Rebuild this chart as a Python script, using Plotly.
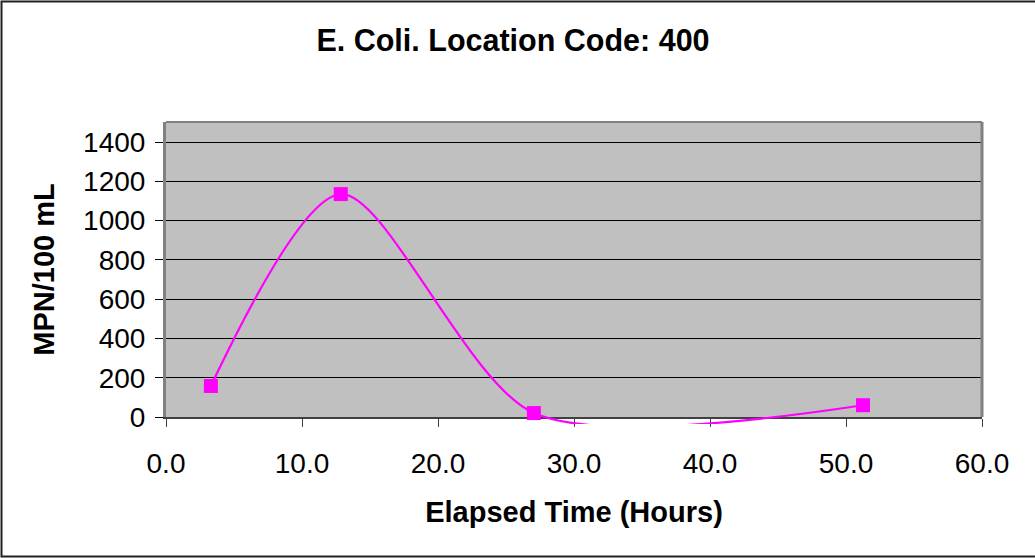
import plotly.graph_objects as go

elapsed_hours = [3.3, 12.85, 27.05, 51.25]
mpn_values = [158, 1135, 20, 60]
x_ticks = [0, 10, 20, 30, 40, 50, 60]
x_tick_labels = ["0.0", "10.0", "20.0", "30.0", "40.0", "50.0", "60.0"]
y_ticks = [0, 200, 400, 600, 800, 1000, 1200, 1400]
y_max = 1502

FONT = "Arial, Liberation Sans, sans-serif"
W, H = 1035, 558
L, R, T, B = 166, 982, 122, 417
EXT = 7  # line may run a few px below the axis, as in the reference
B2 = B + EXT
d = EXT / (B2 - T)
y2_min = -y_max * EXT / (B - T)

def px_x(p):
    return (p - L) / (R - L)

def px_y(p):
    return (B2 - p) / (B2 - T)

fig = go.Figure()
fig.add_trace(go.Scatter(
    x=elapsed_hours, y=mpn_values, mode="lines+markers",
    xaxis="x2", yaxis="y2",
    line=dict(color="#FF00FF", width=2.2, shape="spline", smoothing=0.8),
    marker=dict(symbol="square", size=14, color="#FF00FF"),
    cliponaxis=False, showlegend=False,
))

fig.update_layout(
    width=W, height=H,
    margin=dict(l=L, r=W - R, t=T, b=H - B2),
    paper_bgcolor="white", plot_bgcolor="rgba(0,0,0,0)",
    font=dict(family=FONT, color="black", size=28),
    title=dict(text="<b>E. Coli. Location Code: 400</b>", xref="container",
               x=513 / W, xanchor="center", yref="container", y=1 - 40 / H,
               yanchor="middle", font=dict(size=30.5, family=FONT)),
    xaxis=dict(range=[0, 60], tickvals=x_ticks, ticktext=x_tick_labels,
               domain=[0, 1], anchor="y",
               showgrid=False, zeroline=False, showline=True, linecolor="#404040",
               linewidth=2, ticks="outside", ticklen=8, tickcolor="#404040",
               ticklabelstandoff=12, tickfont=dict(size=28),
               title=dict(text="<b>Elapsed Time (Hours)</b>", standoff=24,
                          font=dict(size=29))),
    yaxis=dict(range=[0, y_max], tickvals=y_ticks, domain=[d, 1], anchor="x",
               showgrid=True, gridcolor="black",
               gridwidth=1, zeroline=False, showline=True, linecolor="#808080",
               linewidth=3, ticks="outside", ticklen=8, tickcolor="black",
               ticklabelstandoff=4, tickfont=dict(size=28),
               title=dict(text="<b>MPN/100 mL</b>", standoff=20,
                          font=dict(size=29))),
    xaxis2=dict(range=[0, 60], domain=[0, 1], anchor="y2", visible=False),
    yaxis2=dict(range=[y2_min, y_max], domain=[0, 1], anchor="x2", visible=False),
)

# gray plot area
fig.add_shape(type="rect", xref="x", yref="y", x0=0, x1=60, y0=0, y1=y_max,
              fillcolor="#C0C0C0", line=dict(width=0), layer="below")
# gray frame on top/right
fig.add_shape(type="line", xref="paper", yref="paper", x0=0, x1=1,
              y0=1, y1=1, line=dict(color="#808080", width=2))
fig.add_shape(type="line", xref="paper", yref="paper", x0=1, x1=1,
              y0=px_y(B), y1=1, line=dict(color="#808080", width=3))
# outer chart border
fig.add_shape(type="rect", xref="paper", yref="paper",
              x0=px_x(1.5), x1=px_x(1045), y0=px_y(556.5), y1=px_y(1.5),
              line=dict(color="#202020", width=2))

fig.write_html("out.html", config={"displayModeBar": False},
               post_script="document.body.style.margin='0px';")
